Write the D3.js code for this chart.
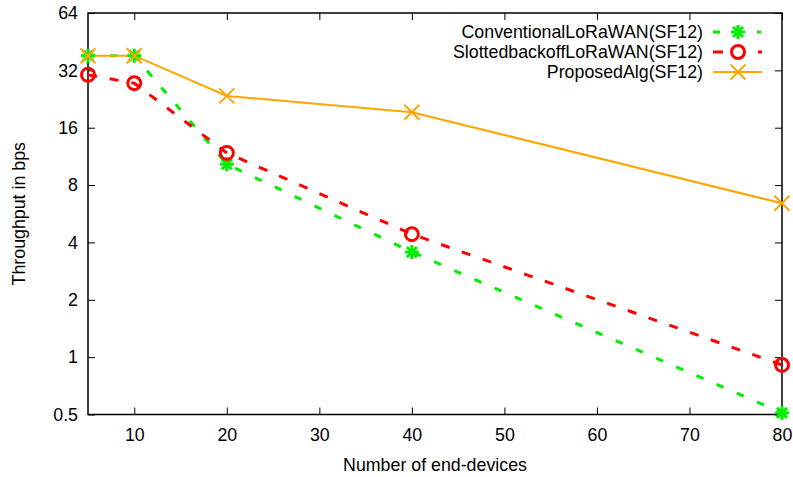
<!DOCTYPE html>
<html><head><meta charset="utf-8">
<script src="https://cdn.jsdelivr.net/npm/d3@7"></script>
<style>body{margin:0;background:#fff}svg{display:block}text{font-family:"Liberation Sans",Arial,sans-serif;}</style>
</head><body>
<script>
const xValues = [5, 10, 20, 40, 80];
const conventional = [38.2, 38.2, 10.3, 3.56, 0.51];
const slotted = [30.3, 27.4, 11.8, 4.42, 0.91];
const proposed = [38.2, 38.2, 23.5, 19.3, 6.42];
const seriesNames = ["ConventionalLoRaWAN(SF12)", "SlottedbackoffLoRaWAN(SF12)", "ProposedAlg(SF12)"];
const xTicks = [10, 20, 30, 40, 50, 60, 70, 80];
const yTicks = [0.5, 1, 2, 4, 8, 16, 32, 64];

const W = 793, H = 477;
const m = {l: 88, r: 11, t: 13, b: 62.5};
const svg = d3.select("body").append("svg").attr("width", W).attr("height", H);
const x = d3.scaleLinear().domain([5, 80]).range([m.l, W - m.r]);
const y = d3.scaleLog().base(2).domain([0.5, 64]).range([H - m.b, m.t]);

const fs = 17.8;
const ff = '"Liberation Sans",Arial,sans-serif';
// axes
const ax = svg.append("g");
ax.append("g").attr("transform", `translate(0,${H - m.b})`)
  .call(d3.axisBottom(x).tickValues(xTicks).tickSizeInner(-7).tickSizeOuter(0).tickPadding(14))
  .call(g => { g.select(".domain").remove(); g.selectAll("text").attr("font-size", fs).attr("fill", "#000").attr("font-family", ff); });
ax.append("g").attr("transform", `translate(0,${m.t})`)
  .call(d3.axisTop(x).tickValues(xTicks).tickSizeInner(-7).tickSizeOuter(0).tickFormat(""))
  .call(g => g.select(".domain").remove());
ax.append("g").attr("transform", `translate(${m.l},0)`)
  .call(d3.axisLeft(y).tickValues(yTicks).tickFormat(d => String(d)).tickSizeInner(-7).tickSizeOuter(0).tickPadding(10))
  .call(g => { g.select(".domain").remove(); g.selectAll("text").attr("font-size", fs).attr("fill", "#000").attr("font-family", ff); });
ax.append("g").attr("transform", `translate(${W - m.r},0)`)
  .call(d3.axisRight(y).tickValues(yTicks).tickSizeInner(-7).tickSizeOuter(0).tickFormat(""))
  .call(g => g.select(".domain").remove());
svg.selectAll(".tick line").attr("stroke", "#000").attr("stroke-width", 1);
svg.append("rect").attr("x", m.l).attr("y", m.t).attr("width", W - m.r - m.l).attr("height", H - m.b - m.t)
  .attr("fill", "none").attr("stroke", "#000").attr("stroke-width", 1.5);

svg.append("text").attr("x", (m.l + W - m.r) / 2).attr("y", 471).attr("text-anchor", "middle").attr("font-size", fs).text("Number of end-devices");
svg.append("text").attr("transform", `translate(25,${(m.t + H - m.b) / 2}) rotate(-90)`).attr("text-anchor", "middle").attr("font-size", fs).text("Throughput in bps");

const series = [
  {name: seriesNames[0], vals: conventional, color: "#00ee00", dash: "7.5,14.5", width: 3, marker: "star"},
  {name: seriesNames[1], vals: slotted, color: "#ff0000", dash: "9,13", width: 3, marker: "circle"},
  {name: seriesNames[2], vals: proposed, color: "#ffa500", dash: null, width: 2, marker: "x"}
];
const line = d3.line().x(d => x(d[0])).y(d => y(d[1]));

function drawMarker(g, type, cx, cy, color) {
  if (type === "star") {
    const s = 7;
    [[-s,0,s,0],[0,-s,0,s],[-s*0.72,-s*0.72,s*0.72,s*0.72],[-s*0.72,s*0.72,s*0.72,-s*0.72]].forEach(l =>
      g.append("line").attr("x1", cx + l[0]).attr("y1", cy + l[1]).attr("x2", cx + l[2]).attr("y2", cy + l[3]).attr("stroke", color).attr("stroke-width", 3));
  } else if (type === "circle") {
    g.append("circle").attr("cx", cx).attr("cy", cy).attr("r", 6.5).attr("fill", "none").attr("stroke", color).attr("stroke-width", 3);
  } else {
    const s = 7.5;
    [[-s,-s,s,s],[-s,s,s,-s]].forEach(l =>
      g.append("line").attr("x1", cx + l[0]).attr("y1", cy + l[1]).attr("x2", cx + l[2]).attr("y2", cy + l[3]).attr("stroke", color).attr("stroke-width", 2));
  }
}

series.forEach(s => {
  const pts = xValues.map((xv, i) => [xv, s.vals[i]]);
  svg.append("path").datum(pts).attr("d", line).attr("fill", "none").attr("stroke", s.color)
    .attr("stroke-width", s.width).attr("stroke-dasharray", s.dash);
});
series.forEach(s => {
  const g = svg.append("g");
  xValues.forEach((xv, i) => drawMarker(g, s.marker, x(xv), y(s.vals[i]), s.color));
});

// legend
const lg = svg.append("g");
series.forEach((s, i) => {
  const ly = 32 + i * 20;
  lg.append("text").attr("x", 703).attr("y", ly + 6).attr("text-anchor", "end").attr("font-size", fs).text(s.name);
  lg.append("line").attr("x1", 713).attr("x2", 762).attr("y1", ly).attr("y2", ly).attr("stroke", s.color)
    .attr("stroke-width", s.width).attr("stroke-dasharray", s.dash ? (i === 0 ? "7,37,4" : "10,35,4") : null);
  drawMarker(lg, s.marker, 738, ly, s.color);
});
</script>
</body></html>
